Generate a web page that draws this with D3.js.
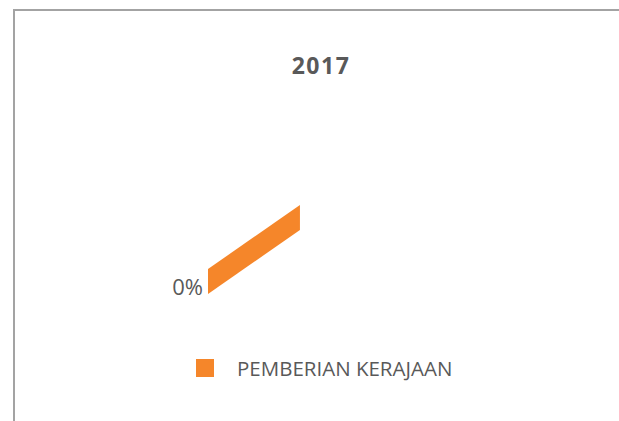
<!DOCTYPE html>
<html>
<head>
  <meta charset="utf-8">
  <script src="https://d3js.org/d3.v7.min.js"></script>
  <style>
    body { margin: 0; background: #fff; }
    svg { display: block; }
    text { font-family: "Open Sans", sans-serif; fill: #595959; }
  </style>
</head>
<body>
  <div id="chart"></div>

  <script>
    const title = "2017";
    const categories = ["PEMBERIAN KERAJAAN"];
    const values = [0];
    const colors = ["#f5862a"];

    const width = 619, height = 421;

    const svg = d3.select("#chart")
      .append("svg")
      .attr("width", width)
      .attr("height", height);

    // chart border (runs off the right and bottom edge)
    svg.append("rect")
      .attr("x", 14)
      .attr("y", 10)
      .attr("width", 700)
      .attr("height", 500)
      .attr("fill", "none")
      .attr("stroke", "#a3a3a3")
      .attr("stroke-width", 2);

    svg.append("text")
      .attr("x", 321)
      .attr("y", 74)
      .attr("text-anchor", "middle")
      .style("font-size", "23px")
      .style("font-weight", "bold")
      .style("letter-spacing", "1.5px")
      .text(title);

    // 3D pie: tilted ellipse, first slice rotated 45deg
    const cx = 208, cy = 269, rx = 130, ry = 90.5, depth = 25;
    const pie = d3.pie().value(d => d).sort(null)
      .startAngle(Math.PI / 4).endAngle(Math.PI / 4 + 2 * Math.PI);
    const total = d3.sum(values);
    const slices = pie(values);
    const pt = a => [cx + rx * Math.sin(a), cy - ry * Math.cos(a)];

    const g = svg.append("g");

    slices.forEach((s, i) => {
      if (s.endAngle - s.startAngle === 0 || total === 0) {
        // empty slice: only the cut face of the pie is visible
        const a = total === 0 ? s.startAngle : s.endAngle;
        const p = pt(a);
        const face = d3.path();
        face.moveTo(cx, cy);
        face.lineTo(p[0], p[1]);
        face.lineTo(p[0], p[1] + depth);
        face.lineTo(cx, cy + depth);
        face.closePath();
        g.append("path")
          .attr("d", face.toString())
          .attr("fill", colors[i]);
      }
    });

    const pct = d3.format(".0%");
    slices.forEach((s, i) => {
      g.append("text")
        .attr("x", cx - 5)
        .attr("y", cy + depth + 1)
        .attr("text-anchor", "end")
        .style("font-size", "22px")
        .text(pct(total === 0 ? 0 : s.data / total));
    });

    // legend
    const legend = svg.append("g").attr("transform", "translate(196,359)");
    categories.forEach((c, i) => {
      legend.append("rect")
        .attr("x", 0).attr("y", 0)
        .attr("width", 18).attr("height", 18)
        .attr("fill", colors[i]);
      legend.append("text")
        .attr("x", 41)
        .attr("y", 17)
        .style("font-size", "20.5px")
        .text(c);
    });
  </script>
</body>
</html>
